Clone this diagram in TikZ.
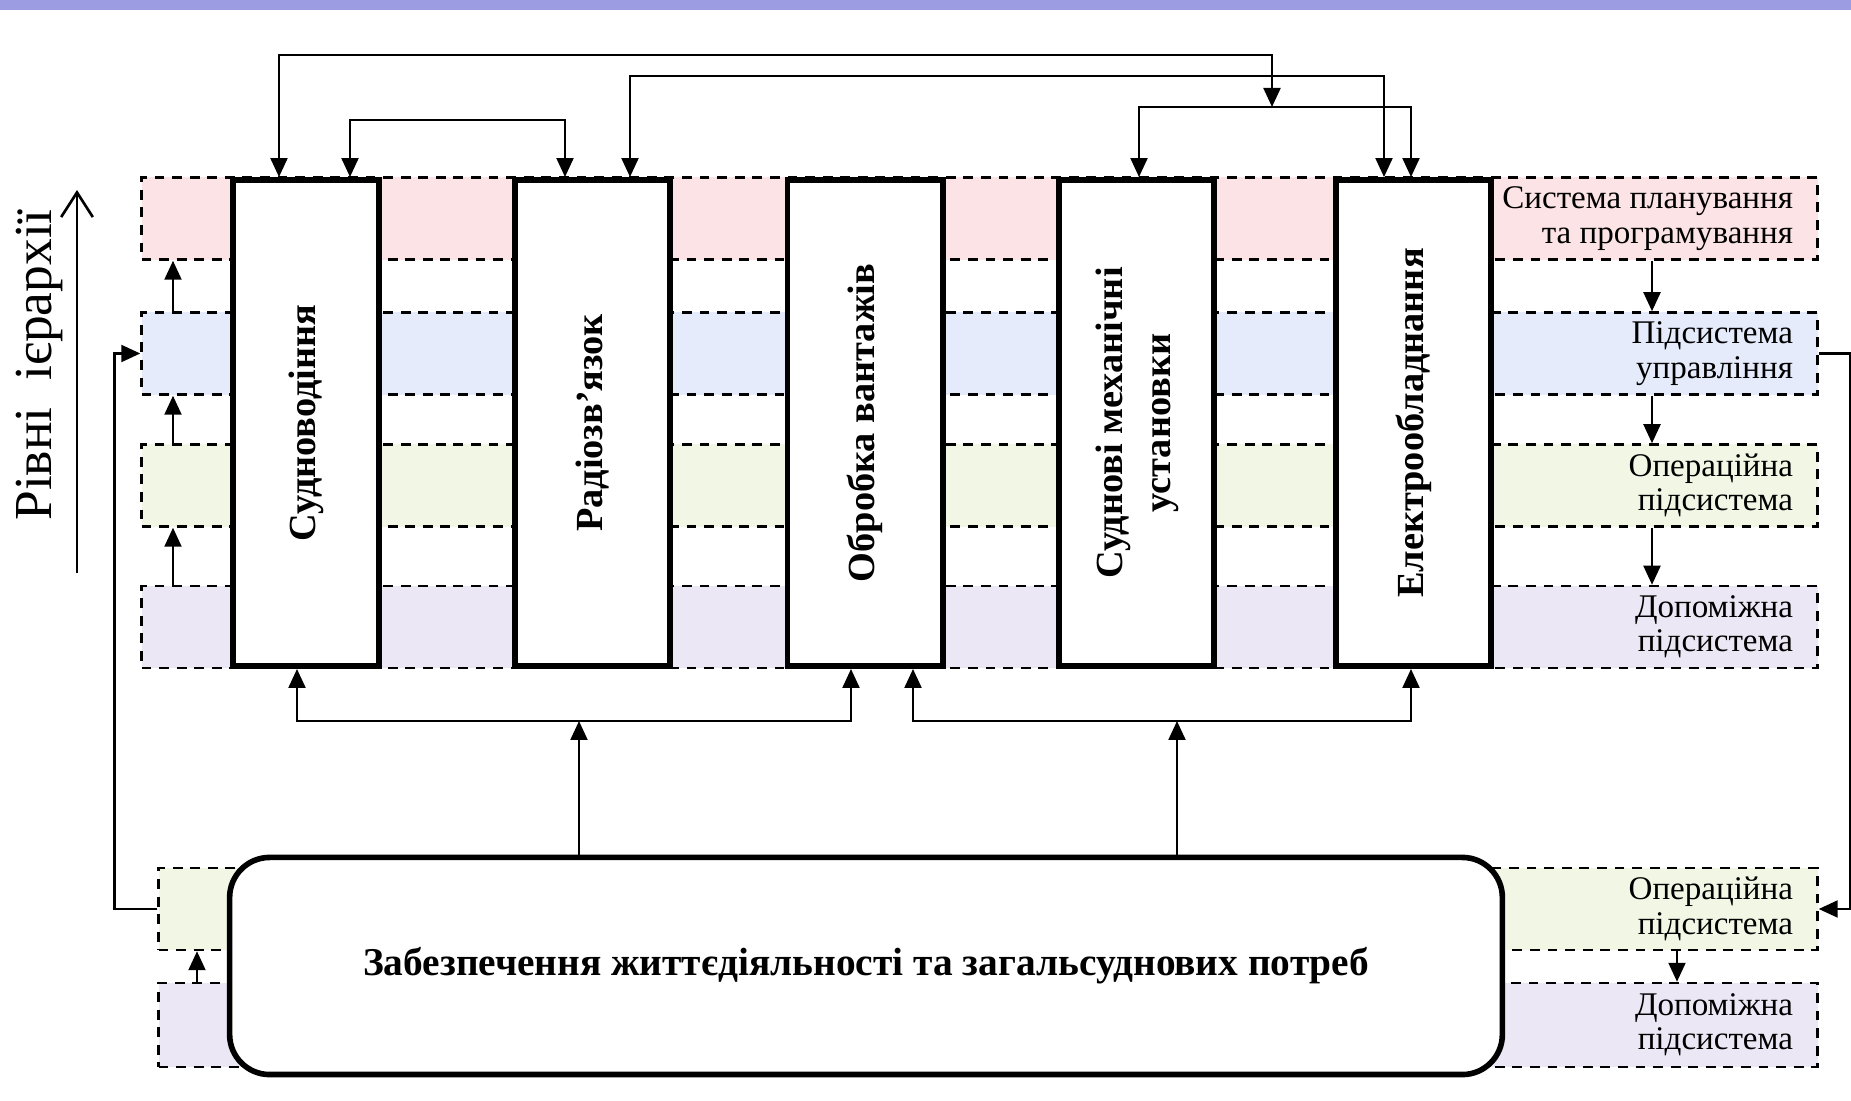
\documentclass[tikz,border=0pt]{standalone}
\usepackage{fontspec}
\setmainfont{Liberation Serif}
\usepackage{graphicx}
\usepackage{tikz}
\usetikzlibrary{arrows.meta,positioning}
\usepackage{xcolor}
\definecolor{bandpink}{RGB}{252,227,229}
\definecolor{bandblue}{RGB}{229,235,250}
\definecolor{bandgreen}{RGB}{242,247,229}
\definecolor{bandviolet}{RGB}{235,231,244}
\definecolor{topstrip}{RGB}{156,156,226}

\begin{document}
\begin{tikzpicture}[
    x=0.01cm, y=-0.01cm,
    sysbox/.style={draw,line width=1.6pt,fill=white,inner sep=0pt,minimum width=1.55cm,minimum height=4.86cm,font=\fontsize{10.9}{13.8}\selectfont\bfseries},
    band/.style={draw,line width=0.7pt,dash pattern=on 2.8pt off 2.2pt,minimum width=16.75cm,minimum height=0.82cm,inner sep=0pt},
    lvltext/.style={align=right,inner sep=0pt,font=\fontsize{9.4}{9.8}\selectfont},
    arr/.style={-{Triangle[length=5.4pt,width=4.8pt]},line width=0.7pt},
    arr2/.style={{Triangle[length=5.4pt,width=4.8pt]}-{Triangle[length=5.4pt,width=4.8pt]},line width=0.7pt},
    uparr/.style={-{Straight Barb[length=7pt,width=9pt]},line width=0.75pt}
]
\useasboundingbox (0,0) rectangle (1851,1101);
\fill[topstrip] (0,0) rectangle (1851,10);
\node[band,fill=bandpink] (plan) at (979.5,218.5) {};
\node[band,fill=bandblue] (ctrl) at (979.5,353.5) {};
\node[band,fill=bandgreen] (oper) at (979.5,485.5) {};
\node[band,fill=bandviolet] (aux) at (979.5,627) {};
\node[band,fill=bandgreen,minimum width=16.58cm] (oper2) at (988,909) {};
\node[band,fill=bandviolet,minimum width=16.58cm,minimum height=0.84cm] (aux2) at (988,1025) {};
\node[lvltext,left=0.25cm of plan.east] (plantxt) {Система планування\\та програмування};
\node[lvltext,left=0.25cm of ctrl.east] (ctrltxt) {Підсистема\\управління};
\node[lvltext,left=0.25cm of oper.east] (opertxt) {Операційна\\підсистема};
\node[lvltext,left=0.25cm of aux.east] (auxtxt) {Допоміжна\\підсистема};
\node[lvltext,left=0.25cm of oper2.east] (oper2txt) {Операційна\\підсистема};
\node[lvltext,left=0.25cm of aux2.east] (aux2txt) {Допоміжна\\підсистема};
\node[sysbox,minimum width=1.46cm] (nav) at (305.9,423) {\rotatebox{90}{Судноводіння}};
\node[sysbox] (radio) at (592.3,423) {\rotatebox{90}{Радіозв’язок}};
\node[sysbox] (cargo) at (865.2,423) {\rotatebox{90}{Обробка вантажів}};
\node[sysbox] (mech) at (1136.7,423) {\rotatebox{90}{\begin{tabular}{@{}c@{}}Суднові механічні\\установки\end{tabular}}};
\node[sysbox] (elec) at (1413.5,423) {\rotatebox{90}{Електрообладнання}};
\node[draw,line width=1.6pt,rounded corners=0.4cm,fill=white,minimum width=12.72cm,minimum height=2.17cm,font=\fontsize{11.2}{13}\selectfont\bfseries] (life) at (866,966) {Забезпечення життєдіяльності та загальсуднових потреб};
\node[rotate=90,inner sep=0pt,font=\fontsize{15.2}{18}\selectfont] (levels) at (39,365) {Рівні\ \ ієрархії};
\coordinate (lvlbot) at (77,573);
\coordinate (lvltop) at (77,190);
\coordinate (busC) at (1272,107);
\coordinate (busL) at (579,721);
\coordinate (busR) at (1177,721);
\draw[uparr] (lvlbot)--(lvltop);
\draw[arr2] (nav.north -| 279,0)--++(0,-122)-|(busC);
\draw[arr2] (radio.north -| 630,0)--++(0,-101)-|(elec.north -| 1384,0);
\draw[arr2] (mech.north -| 1139,0)--++(0,-70)-|(elec.north -| 1411,0);
\draw[arr2] (nav.north -| 350,0)--++(0,-57)-|(radio.north -| 565,0);
\draw[arr2] (nav.south -| 297,0)--++(0,52)-|(cargo.south -| 851,0);
\draw[arr2] (cargo.south -| 913,0)--++(0,52)-|(elec.south -| 1411,0);
\draw[arr] (life.north -| busL)--(busL);
\draw[arr] (life.north -| busR)--(busR);
\draw[arr] (ctrl.north -| 173,0)--(plan.south -| 173,0);
\draw[arr] (oper.north -| 173,0)--(ctrl.south -| 173,0);
\draw[arr] (aux.north -| 173,0)--(oper.south -| 173,0);
\draw[arr] (aux2.north -| 197,0)--(oper2.south -| 197,0);
\draw[arr] (plan.south -| 1652,0)--(ctrl.north -| 1652,0);
\draw[arr] (ctrl.south -| 1652,0)--(oper.north -| 1652,0);
\draw[arr] (oper.south -| 1652,0)--(aux.north -| 1652,0);
\draw[arr] (oper2.south -| 1677,0)--(aux2.north -| 1677,0);
\draw[arr] (oper2.west)--++(-43,0)|-(ctrl.west);
\draw[arr] (ctrl.east)--++(31,0)|-(oper2.east);
\end{tikzpicture}
\end{document}
